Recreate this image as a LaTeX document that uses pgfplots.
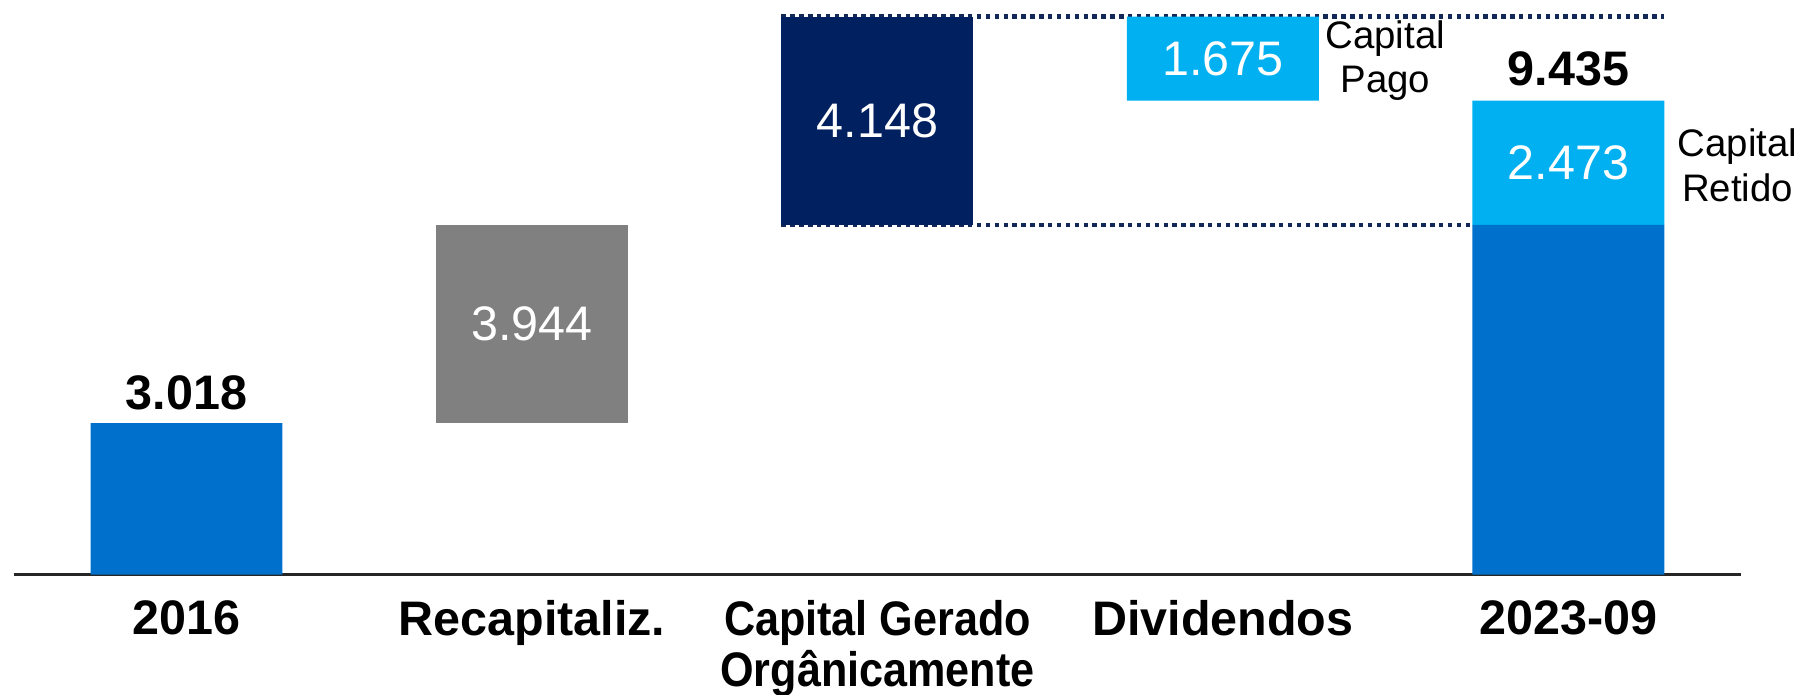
\documentclass[border=0pt]{standalone}
\usepackage{pgfplots}
\pgfplotsset{compat=1.18}
\usepackage{fontspec}
\setmainfont{Liberation Sans}
\definecolor{midblue}{HTML}{0070CD}
\definecolor{greybar}{HTML}{808080}
\definecolor{navy}{HTML}{002060}
\definecolor{lightblue}{HTML}{00B0F0}
\definecolor{dotnavy}{HTML}{142858}
\begin{document}
\begin{tikzpicture}
\begin{axis}[
 scale only axis, width=150.3mm, height=50mm,
 xmin=-0.5, xmax=4.5, ymin=0, ymax=11.44,
 axis x line*=bottom, axis y line=none,
 x axis line style={line width=0.7pt, black!85, -},
 ybar stacked, bar width=16.7mm,
 xtick={0,1,2,3,4},
 xticklabels={2016,Recapitaliz.,{\scalebox{0.89}[1]{Capital Gerado}\\\scalebox{0.89}[1]{Orgânicamente}},Dividendos,2023-09},
 major tick length=0pt,
 xticklabel style={font=\fontsize{12}{10.4}\selectfont\bfseries, align=center, inner sep=0pt, anchor=north, yshift=-2.2mm},
 clip=false,
]
\addplot[draw=none, fill=none] coordinates {(0,0)(1,3.018)(2,6.962)(3,9.435)(4,0)};
\addplot[draw=none, fill=midblue] coordinates {(0,3.018)(1,0)(2,0)(3,0)(4,6.962)};
\addplot[draw=none, fill=greybar] coordinates {(0,0)(1,3.944)(2,0)(3,0)(4,0)};
\addplot[draw=none, fill=navy] coordinates {(0,0)(1,0)(2,4.148)(3,0)(4,0)};
\addplot[draw=none, fill=lightblue] coordinates {(0,0)(1,0)(2,0)(3,1.675)(4,2.473)};
\addplot[stack plots=false, sharp plot, dotnavy, line width=1.1pt, dash pattern=on 1.1pt off 1.1pt, forget plot] coordinates {(1.722,11.11)(4.278,11.11)};
\addplot[stack plots=false, sharp plot, dotnavy, line width=1.1pt, dash pattern=on 1.1pt off 1.1pt, forget plot] coordinates {(1.722,6.962)(4.278,6.962)};
\coordinate (t0) at (axis cs:0,3.018);
\coordinate (t4) at (axis cs:4,9.435);
\coordinate (c1) at (axis cs:1,4.99);
\coordinate (c2) at (axis cs:2,9.036);
\coordinate (c3) at (axis cs:3,10.27);
\coordinate (c4) at (axis cs:4,8.20);
\coordinate (p1) at (axis cs:3.47,10.23);
\coordinate (p2) at (axis cs:4.49,8.15);
\end{axis}
\node[font=\fontsize{12}{12}\selectfont\bfseries, anchor=base, inner sep=0pt, yshift=1.2mm] at (t0) {3.018};
\node[font=\fontsize{12}{12}\selectfont\bfseries, anchor=base, inner sep=0pt, yshift=1.3mm] at (t4) {9.435};
\node[font=\fontsize{12}{12}\selectfont, text=white] at (c1) {3.944};
\node[font=\fontsize{12}{12}\selectfont, text=white] at (c2) {4.148};
\node[font=\fontsize{12}{12}\selectfont, text=white] at (c3) {1.675};
\node[font=\fontsize{12}{12}\selectfont, text=white] at (c4) {2.473};
\node[font=\fontsize{9.5}{11}\selectfont, align=center] at (p1) {Capital\\Pago};
\node[font=\fontsize{9.5}{11}\selectfont, align=center] at (p2) {Capital\\Retido};
\pgfresetboundingbox
\path[use as bounding box] (-1.2mm,-10.4mm) rectangle (155.6mm,50mm);
\end{tikzpicture}
\end{document}
